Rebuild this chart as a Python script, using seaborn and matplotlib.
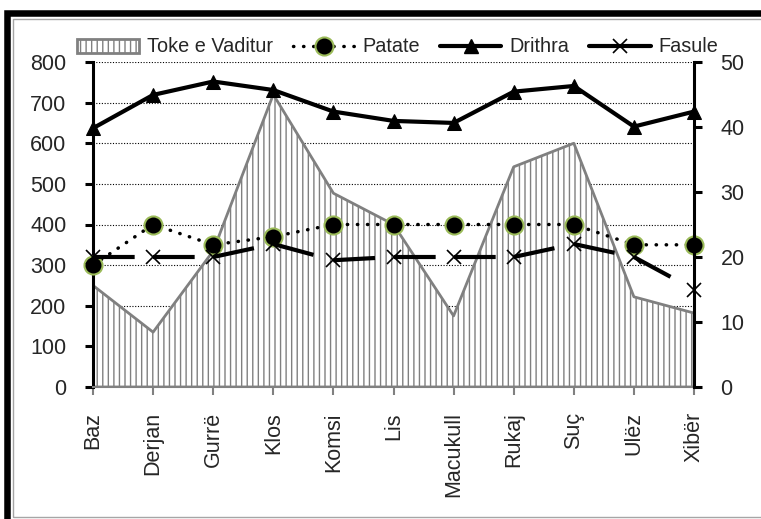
import numpy as np
import matplotlib
matplotlib.use("Agg")
import matplotlib.pyplot as plt
from matplotlib.lines import Line2D
from matplotlib.patches import Patch, Rectangle
import seaborn as sns

villages = ["Baz", "Derjan", "Gurrë", "Klos", "Komsi", "Lis", "Macukull",
            "Rukaj", "Suç", "Ulëz", "Xibër"]
toke_vaditur = [250, 135, 335, 720, 477, 400, 175, 542, 600, 222, 182]
patate = [300, 400, 350, 370, 400, 400, 400, 400, 400, 350, 350]
drithra = [637, 719, 752, 731, 678, 655, 650, 727, 741, 641, 678]
fasule = [20, 20, 20, 22, 19.5, 20, 20, 20, 22, 20, 15]
left_ticks = list(range(0, 801, 100))
right_ticks = list(range(0, 51, 10))

GRAY = "#808080"
GREEN = "#9bbb59"
DOTS = (0, (0.1, 2.8))

sns.set_style("white")
plt.rcParams["font.family"] = ["Liberation Sans", "DejaVu Sans"]
plt.rcParams["hatch.linewidth"] = 1.0

W, H = 761, 519
fig = plt.figure(figsize=(W / 100, H / 100), dpi=100)
ax = fig.add_axes([93 / W, 1 - 387 / H, (694 - 93) / W, (387 - 62) / H])
ax2 = ax.twinx()
pos = np.arange(len(villages))

# area series (left axis)
ax.fill_between(pos, 0, toke_vaditur, facecolor="white", edgecolor=GRAY,
                hatch="|||", linewidth=2, zorder=1)

sns.lineplot(x=pos, y=patate, ax=ax, color="black", linewidth=2.5,
             linestyle=DOTS, dash_capstyle="round", marker="o", markersize=13,
             markerfacecolor="black", markeredgecolor=GREEN,
             markeredgewidth=1.5, clip_on=False, zorder=3)
sns.lineplot(x=pos, y=drithra, ax=ax, color="black", linewidth=3,
             marker="^", markersize=10, markerfacecolor="black",
             markeredgecolor="black", clip_on=False, zorder=3)

# Fasule: right axis, each segment drawn with one long dash
for i in range(len(pos) - 1):
    ax2.plot(pos[i:i + 2], fasule[i:i + 2], color="black", linewidth=3,
             linestyle=(0, (10, 30)), dash_capstyle="butt", clip_on=False)
ax2.plot(pos, fasule, linestyle="none", marker="x", markersize=10,
         markeredgewidth=1.2, color="black", clip_on=False)

ax.set_xlim(0, len(pos) - 1)
ax.set_ylim(0, 800)
ax2.set_ylim(0, 50)
ax.set_yticks(left_ticks)
ax2.set_yticks(right_ticks)
ax.set_xticks(pos)
ax.set_xticklabels(villages, rotation=90)

ax.set_axisbelow(True)
ax.yaxis.grid(True, color="black", linestyle=(0, (1, 1.5)), linewidth=0.8)
ax.xaxis.grid(False)

for s in ("top", "right"):
    ax.spines[s].set_visible(False)
for s in ("top", "left", "bottom"):
    ax2.spines[s].set_visible(False)
ax.spines["left"].set_linewidth(2.2)
ax.spines["left"].set_color("black")
ax.spines["bottom"].set_linewidth(1.5)
ax.spines["bottom"].set_color(GRAY)
ax2.spines["right"].set_linewidth(2.2)
ax2.spines["right"].set_color("black")

ax.tick_params(axis="y", direction="out", length=6, width=2.2, color="black",
               pad=13, labelsize=15.5, left=True)
ax2.yaxis.set_tick_params(which="major", direction="out", length=6, width=2.2,
                          color="black", pad=13, labelsize=15.5, right=True)
ax.tick_params(axis="x", direction="out", length=6, width=1.5, color=GRAY,
               pad=12, labelsize=15.5, bottom=True)
ax.set_xlabel("")
ax.set_ylabel("")
ax2.set_ylabel("")

handles = [
    Patch(facecolor="white", edgecolor=GRAY, hatch="|||", linewidth=2),
    Line2D([], [], color="black", linewidth=2.5, linestyle=DOTS,
           dash_capstyle="round", marker="o", markersize=13,
           markerfacecolor="black", markeredgecolor=GREEN, markeredgewidth=1.5),
    Line2D([], [], color="black", linewidth=3, marker="^", markersize=10),
    Line2D([], [], color="black", linewidth=3, marker="x", markersize=10,
           markeredgewidth=1.2),
]
labels = ["Toke e Vaditur", "Patate", "Drithra", "Fasule"]
fig.legend(handles, labels, loc="center", bbox_to_anchor=(398 / W, 1 - 47 / H),
           ncol=4, frameon=False, fontsize=14.3, handlelength=3.1,
           handletextpad=0.4, columnspacing=1.0)

# chart frame: thick black outer line and thin gray inner line
fig.add_artist(Rectangle((6.5 / W, -0.1), 1.2, 1.1 - 13 / H,
                         transform=fig.transFigure, fill=False,
                         edgecolor="black", linewidth=4.7))
fig.add_artist(Rectangle((12.5 / W, 1 - 517 / H), 1.2, (517 - 19) / H,
                         transform=fig.transFigure, fill=False,
                         edgecolor="#a6a6a6", linewidth=1))

fig.savefig("out.png", dpi=100)
